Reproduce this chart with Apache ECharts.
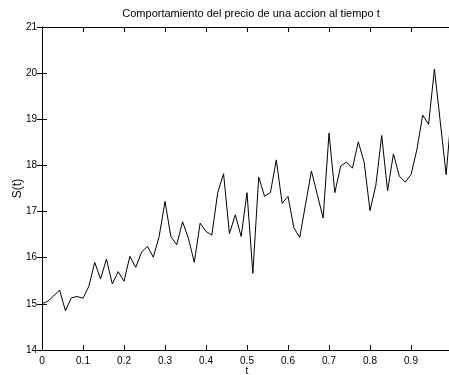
<!DOCTYPE html>
<html>
<head>
<meta charset="utf-8">
<script src="https://cdn.jsdelivr.net/npm/echarts@6/dist/echarts.min.js"></script>
<style>html,body{margin:0;padding:0;background:#fff}#c{width:449px;height:375px}</style>
</head>
<body>
<div id="c"></div>
<script>
var titleText = 'Comportamiento del precio de una accion al tiempo t';
var xName = 't';
var yName = 'S(t)';
var dt = 1 / 70;
var prices = [
  15.00, 15.06, 15.17, 15.30, 14.85, 15.13, 15.16, 15.12, 15.38, 15.90,
  15.54, 15.97, 15.43, 15.70, 15.49, 16.03, 15.79, 16.12, 16.25, 16.01,
  16.46, 17.22, 16.46, 16.28, 16.78, 16.42, 15.90, 16.75, 16.57, 16.49,
  17.41, 17.82, 16.52, 16.93, 16.46, 17.41, 15.66, 17.75, 17.33, 17.41,
  18.12, 17.18, 17.33, 16.65, 16.44, 17.16, 17.88, 17.37, 16.86, 18.70,
  17.41, 17.99, 18.07, 17.94, 18.51, 18.07, 17.02, 17.57, 18.65, 17.45,
  18.25, 17.77, 17.64, 17.80, 18.34, 19.09, 18.89, 20.09, 18.94, 17.80,
  19.30
];
var xMin = 0, xMax = 1, xStep = 0.1;
var yMin = 14, yMax = 21, yStep = 1;

var points = prices.map(function (v, i) { return [i * dt, v]; });

var font = 'Liberation Sans, Arial, Helvetica, sans-serif';
var axisLine = { show: true, lineStyle: { color: '#000', width: 1 } };
var tick = { show: true, inside: true, length: 5, lineStyle: { color: '#000', width: 1 } };

var chart = echarts.init(document.getElementById('c'), null, { renderer: 'canvas' });
chart.setOption({
  backgroundColor: '#fff',
  animation: false,
  title: {
    text: titleText,
    left: 246,
    textAlign: 'center',
    top: 3,
    textStyle: { fontFamily: font, fontSize: 11, fontWeight: 'normal', color: '#000' }
  },
  grid: { left: 42, right: -3, top: 27, bottom: 25, containLabel: false, outerBoundsMode: 'none' },
  xAxis: [{
    type: 'value', min: xMin, max: xMax, interval: xStep,
    name: xName, nameLocation: 'middle', nameGap: 16, nameMoveOverlap: false,
    nameTextStyle: { fontFamily: font, fontSize: 10, color: '#000' },
    axisLine: axisLine, axisTick: tick, splitLine: { show: false },
    axisLabel: {
      fontFamily: font, fontSize: 10, color: '#000', margin: 6,
      formatter: function (v) { return v >= 0.99 ? '' : String(Math.round(v * 10) / 10); }
    }
  }, {
    type: 'value', min: xMin, max: xMax, interval: xStep, position: 'top',
    axisLine: axisLine, axisTick: tick, splitLine: { show: false }, axisLabel: { show: false }
  }],
  yAxis: [{
    type: 'value', min: yMin, max: yMax, interval: yStep,
    name: yName, nameLocation: 'middle', nameGap: 18, nameMoveOverlap: false,
    nameTextStyle: { fontFamily: font, fontSize: 12, color: '#000' },
    axisLine: axisLine, axisTick: tick, splitLine: { show: false },
    axisLabel: { fontFamily: font, fontSize: 10, color: '#000', margin: 5 }
  }, {
    type: 'value', min: yMin, max: yMax, interval: yStep, position: 'right',
    axisLine: axisLine, axisTick: tick, splitLine: { show: false }, axisLabel: { show: false }
  }],
  series: [{
    type: 'line', data: points, xAxisIndex: 0, yAxisIndex: 0,
    showSymbol: false, symbol: 'none', clip: true,
    lineStyle: { color: '#000', width: 1 }
  }]
});
</script>
</body>
</html>
